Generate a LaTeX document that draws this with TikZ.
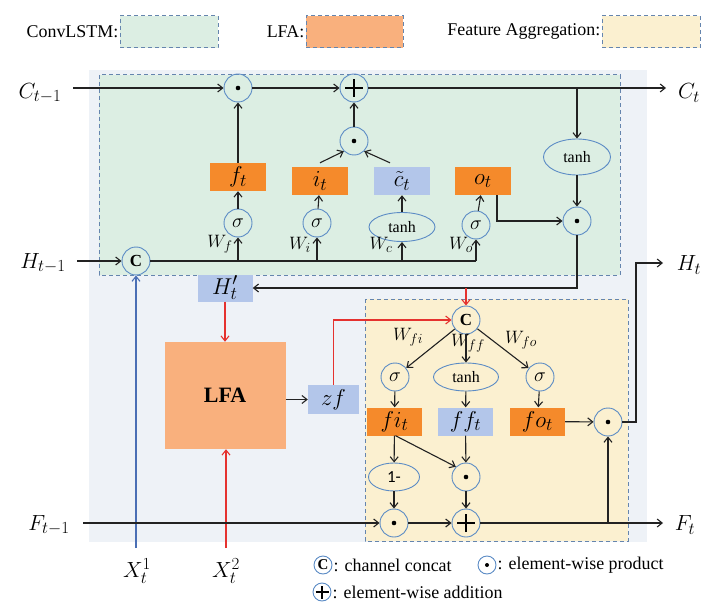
\RequirePackage{fix-cm}
\documentclass[tikz,border=0pt]{standalone}
\usepackage{fontspec}
\setmainfont{Liberation Serif}
\newfontfamily\carlito{Carlito}
\usetikzlibrary{arrows.meta,shapes.geometric}
\DeclareMathSizes{22}{22}{17}{13}
\DeclareMathSizes{23}{23}{18}{14}
\DeclareMathSizes{20}{20}{16}{12}
\DeclareMathSizes{18}{18}{14}{11}
\definecolor{bgc}{HTML}{EEF2F7}
\definecolor{lstm}{HTML}{DCEEE3}
\definecolor{lfac}{HTML}{F9B07D}
\definecolor{orng}{HTML}{F58A2B}
\definecolor{bluebox}{HTML}{B3C6EA}
\definecolor{fac}{HTML}{FBF0D0}
\definecolor{dashc}{HTML}{6585AE}
\definecolor{circ}{HTML}{5B8BC5}
\definecolor{linec}{HTML}{222222}
\definecolor{redl}{HTML}{E5322F}
\definecolor{bluel}{HTML}{4A6FB5}
\begin{document}
\begin{tikzpicture}[x=1bp,y=-1bp,
  >={Straight Barb[length=5bp,width=8bp]},
  dashbox/.style={draw=dashc,line width=1bp,dash pattern=on 4bp off 3bp},
  legbox/.style={dashbox,minimum width=98bp,minimum height=32bp,inner sep=0},
  legtxt/.style={font=\fontsize{18}{21}\selectfont,inner sep=1bp},
  biglab/.style={font=\fontsize{22}{26}\selectfont,inner sep=0},
  wlab/.style={font=\fontsize{18}{21}\selectfont,inner sep=0},
  obox/.style={rectangle,fill=orng,minimum width=56bp,minimum height=28bp,inner sep=0,font=\fontsize{23}{26}\selectfont},
  bbox/.style={rectangle,fill=bluebox,minimum width=56bp,minimum height=28bp,inner sep=0,font=\fontsize{23}{26}\selectfont},
  opsig/.style={circle,draw=circ,line width=0.9bp,minimum size=28bp,inner sep=0,font=\fontsize{20}{22}\selectfont},
  opcat/.style={circle,draw=circ,line width=0.9bp,minimum size=28bp,inner sep=0,font=\fontsize{17}{20}\selectfont\bfseries},
  opcatsmall/.style={circle,draw=circ,line width=0.9bp,minimum size=18bp,inner sep=0,font=\fontsize{15}{18}\selectfont\bfseries},
  optanh/.style={ellipse,draw=circ,line width=0.9bp,minimum width=66bp,minimum height=29bp,inner sep=0,font=\fontsize{16}{18}\selectfont},
  opone/.style={ellipse,draw=circ,line width=0.9bp,minimum width=51bp,minimum height=28bp,inner sep=0,font=\carlito\fontsize{17}{20}\selectfont},
  opdot/.style={circle,draw=circ,line width=0.9bp,minimum size=28bp,inner sep=0,
    path picture={\fill[black] (path picture bounding box.center) circle[radius=2.3bp];}},
  opdotsmall/.style={circle,draw=circ,line width=0.9bp,minimum size=18bp,inner sep=0,
    path picture={\fill[black] (path picture bounding box.center) circle[radius=2bp];}},
  opplus/.style={circle,draw=circ,line width=0.9bp,minimum size=28bp,inner sep=0,
    path picture={\draw[black,line width=1.8bp]
      ([xshift=-9bp]path picture bounding box.center) -- ([xshift=9bp]path picture bounding box.center)
      ([yshift=-9bp]path picture bounding box.center) -- ([yshift=9bp]path picture bounding box.center);}},
  opplussmall/.style={circle,draw=circ,line width=0.9bp,minimum size=18bp,inner sep=0,
    path picture={\draw[black,line width=1.4bp]
      ([xshift=-6.5bp]path picture bounding box.center) -- ([xshift=6.5bp]path picture bounding box.center)
      ([yshift=-6.5bp]path picture bounding box.center) -- ([yshift=6.5bp]path picture bounding box.center);}},
  conn/.style={draw=linec,line width=1.1bp},
  arr/.style={conn,->},
  redarr/.style={draw=redl,line width=1.1bp,->},
  bluearr/.style={draw=bluel,line width=1.1bp,->}
]
\useasboundingbox (0,0) rectangle (726,606);
% backgrounds
\fill[bgc] (89,70) rectangle (647,542);
\draw[dashbox,fill=lstm] (99,75) rectangle (620,275);
\draw[dashbox,fill=fac] (365,299) rectangle (628,541);
% legend top
\node[legbox,fill=lstm] (lg1) at (169,32) {};
\node[legtxt,anchor=east] (lt1) at (lg1.west) {ConvLSTM:};
\node[legbox,fill=lfac,minimum width=97bp] (lg2) at (354.5,32) {};
\node[legtxt,anchor=east] (lt2) at (lg2.west) {LFA:};
\node[legbox,fill=fac] (lg3) at (651,32) {};
\node[legtxt,anchor=east] (lt3) at (lg3.west) {Feature Aggregation:};
% outer labels
\node[biglab] (lC0) at (40,93) {$C_{t-1}$};
\node[biglab] (lH0) at (43,263) {$H_{t-1}$};
\node[biglab] (lC1) at (689,93) {$C_t$};
\node[biglab] (lH1) at (689,265) {$H_t$};
\node[biglab] (lF0) at (49,525) {$F_{t-1}$};
\node[biglab] (lF1) at (685,525) {$F_t$};
\node[biglab] (lX1) at (137,571) {$X_t^1$};
\node[biglab] (lX2) at (226,571) {$X_t^2$};
% ConvLSTM nodes
\node[opdot] (d1) at (238,88) {};
\node[opplus] (p1) at (354,88) {};
\node[opdot] (d2) at (354,141) {};
\node[obox] (ft) at (238,177) {$f_t$};
\node[obox] (it) at (320,181) {$i_t$};
\node[bbox] (ct) at (402,181) {$\tilde{c}_t$};
\node[obox] (ot) at (483,181) {$o_t$};
\node[opsig] (sf) at (238,223) {$\sigma$};
\node[opsig] (si) at (317,223) {$\sigma$};
\node[optanh] (tc) at (402,227) {tanh};
\node[opsig] (so) at (476,225) {$\sigma$};
\node[opcat] (cat1) at (136,261) {C};
\node[optanh,minimum width=67bp,minimum height=36bp] (th) at (577,157) {tanh};
\node[opdot] (d3) at (577,221) {};
\node[wlab] (wf) at (220,244) {$W_f$};
\node[wlab] (wi) at (300,245) {$W_i$};
\node[wlab] (wc) at (381,245) {$W_c$};
\node[wlab] (wo) at (461,245) {$W_o$};
\coordinate (cin) at (73,88);
\coordinate (cout) at (666,88);
\coordinate (hin) at (77,261);
\coordinate (hline) at (476,261);
% middle
\node[bbox,minimum width=55bp,minimum height=27bp] (Hp) at (225,288) {$H_t'$};
\node[rectangle,fill=lfac,minimum width=121bp,minimum height=107bp,inner sep=0,font=\fontsize{22}{26}\selectfont\bfseries] (lfa) at (225,395.5) {LFA};
\node[bbox,minimum width=51bp,minimum height=29bp] (zf) at (333.5,399.5) {$zf$};
\coordinate (x1) at (136,548);
\coordinate (x2) at (226,548);
% FA nodes
\node[opcat] (cat2) at (466,320) {C};
\node[opsig] (sfi) at (395,377) {$\sigma$};
\node[optanh,minimum width=65bp,minimum height=28bp] (tff) at (466,377) {tanh};
\node[opsig] (sfo) at (540,377) {$\sigma$};
\node[obox,minimum width=55bp] (fit) at (394.5,421.5) {$fi_t$};
\node[bbox,minimum width=55bp] (fft) at (465.5,421.5) {$ff_t$};
\node[obox,minimum width=55bp] (fot) at (537.5,421.5) {$fo_t$};
\node[opdot] (d4) at (608,422) {};
\node[opone] (one) at (394,477) {1-};
\node[opdot] (d5) at (466,477) {};
\node[opdot] (d6) at (394,523) {};
\node[opplus] (p2) at (466,523) {};
\node[wlab] (wfi) at (408,337) {$W_{fi}$};
\node[wlab] (wff) at (468,343) {$W_{ff}$};
\node[wlab] (wfo) at (521,340) {$W_{fo}$};
\coordinate (fin) at (83,523);
\coordinate (fout) at (663,523);
\coordinate (hturn) at (636,263);
\coordinate (hout) at (663,263);
% ConvLSTM connectors
\draw[arr] (cin) -- (d1);
\draw[arr] (d1) -- (p1);
\draw[arr] (p1) -- (cout);
\draw[arr] (ft) -- (d1);
\draw[arr] (d2) -- (p1);
\draw[arr] ([yshift=4bp]it.north) -- (d2.south west);
\draw[arr] ([xshift=-12bp,yshift=4bp]ct.north) -- (d2.south east);
\draw[arr] (hin) -- (cat1);
\draw[conn] (cat1) -- (hline);
\draw[arr] (sf |- hline) -- (sf);
\draw[arr] (si |- hline) -- (si);
\draw[arr] (tc |- hline) -- (tc);
\draw[arr] (hline) -- (so);
\draw[arr] (sf) -- (ft);
\draw[arr] (si) -- (it);
\draw[arr] (tc) -- (ct);
\draw[arr] (so) -- (ot);
\draw[arr] (th |- cout) -- (th);
\draw[arr] (th) -- (d3);
\draw[arr] ([xshift=14bp]ot.south) |- (d3);
\draw[arr] (d3) |- (Hp);
% middle connectors
\draw[redarr] (Hp) -- (lfa);
\draw[arr] (lfa.east |- zf) -- (zf);
\draw[redarr] (zf.north) |- (cat2);
\draw[redarr] (cat2 |- Hp) -- (cat2);
\draw[redarr] (x2) -- (x2 |- lfa.south);
\draw[bluearr] (x1) -- (cat1);
% FA connectors
\draw[arr] (cat2) -- (sfi);
\draw[arr] (cat2) -- (tff);
\draw[arr] (cat2) -- (sfo);
\draw[arr] (sfi) -- (fit);
\draw[arr] (tff) -- (fft);
\draw[arr] (sfo) -- (fot);
\draw[arr] (fit) -- (one);
\draw[arr] ([xshift=1bp]fit.south) -- (d5.north west);
\draw[arr] (fft) -- (d5);
\draw[arr] (one) -- (d6);
\draw[arr] (d5) -- (p2);
\draw[arr] (fin) -- (d6);
\draw[arr] (d6) -- (p2);
\draw[arr] (p2) -- (fout);
\draw[arr] (d4 |- fout) -- (d4);
\draw[arr] (fot) -- (d4);
\draw[arr] (d4) -| (hturn) -- (hout);
% bottom legend
\node[opcatsmall] (lc) at (323,565) {C};
\node[legtxt,anchor=west,inner sep=0] (lct) at ([xshift=1bp]lc.east) {: channel concat};
\node[opdotsmall] (ld) at (487,565) {};
\node[legtxt,anchor=west,inner sep=0] (ldt) at ([xshift=1bp]ld.east) {: element-wise product};
\node[opplussmall] (lp) at (322,592) {};
\node[legtxt,anchor=west,inner sep=0] (lpt) at ([xshift=1bp]lp.east) {: element-wise addition};
\end{tikzpicture}
\end{document}
